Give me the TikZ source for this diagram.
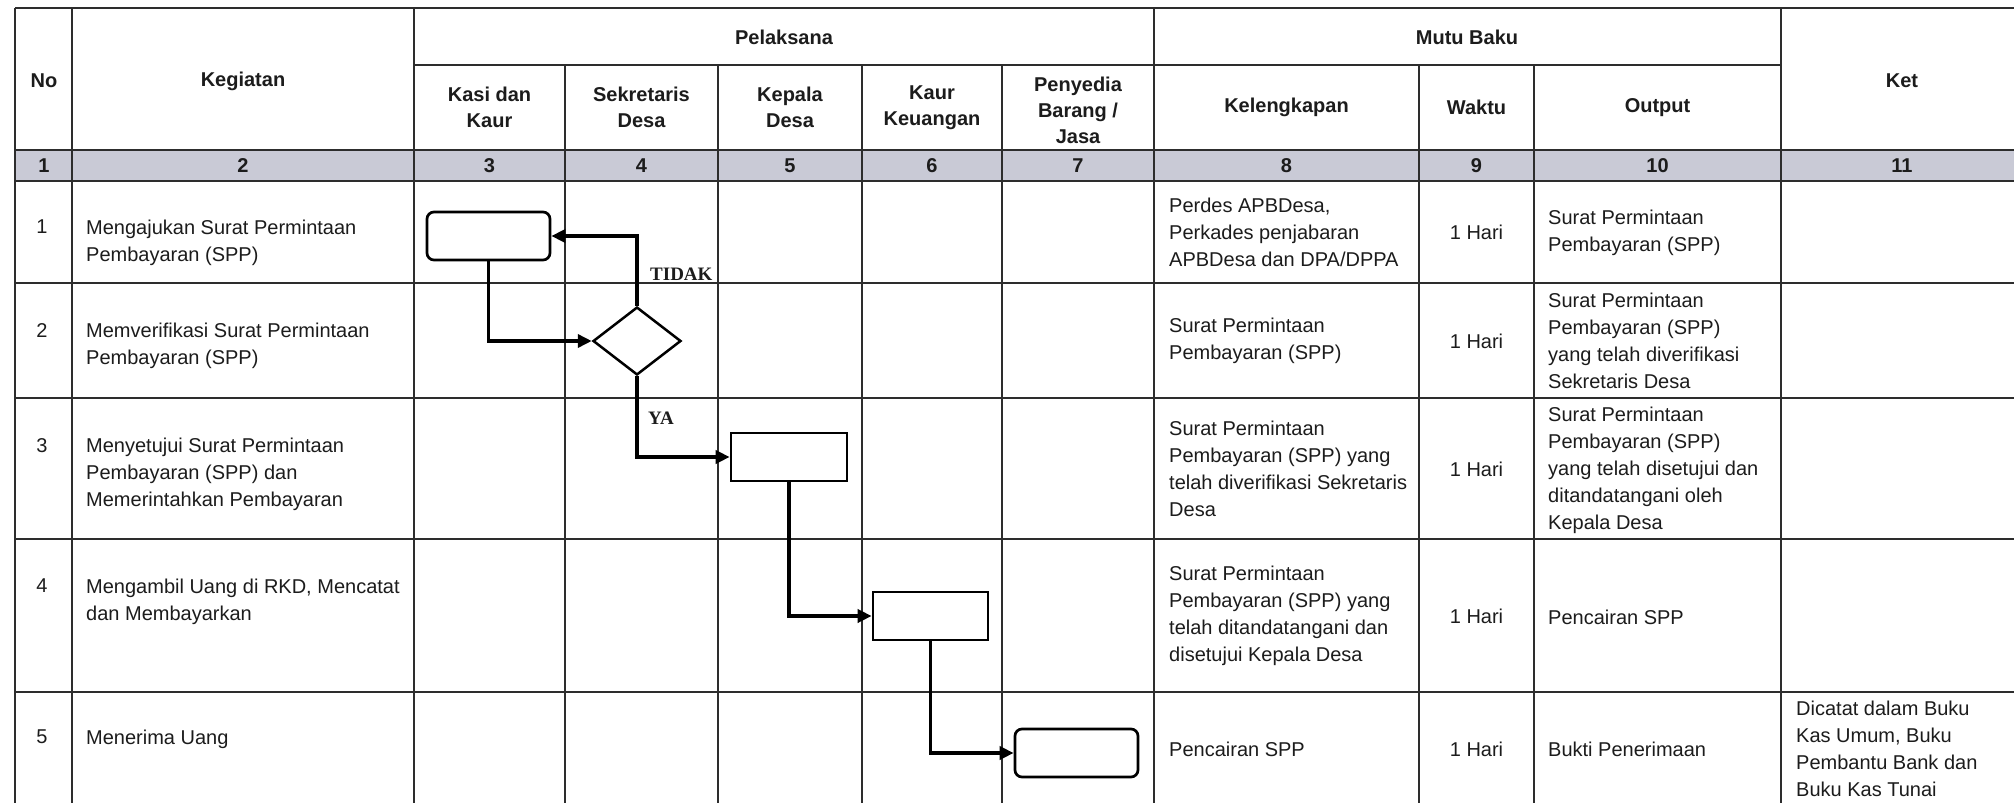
\documentclass[tikz,border=0pt]{standalone}
\usepackage{fontspec}
\setmainfont{Liberation Sans}
\newfontfamily\lblfont{Liberation Serif}
\usetikzlibrary{shapes.geometric,arrows.meta}
\definecolor{band}{RGB}{201,202,214}
\definecolor{ink}{RGB}{28,28,28}
\definecolor{rule}{RGB}{45,45,45}
\begin{document}
\begin{tikzpicture}[x=1pt,y=-1pt,
  gridline/.style={draw=rule, line width=1.9pt},
  bandline/.style={draw=rule, line width=2.4pt},
  hdr/.style={font=\fontsize{20}{26}\selectfont\bfseries, align=center, inner sep=0pt, text=ink},
  num/.style={font=\fontsize{20}{26}\selectfont\bfseries, inner sep=0pt, text=ink},
  cell/.style={font=\fontsize{20}{27}\selectfont, align=left, inner sep=0pt, text=ink, anchor=west},
  topcell/.style={font=\fontsize{20}{27}\selectfont, align=left, inner sep=0pt, text=ink, anchor=north west},
  nocell/.style={font=\fontsize{20}{27}\selectfont, inner sep=0pt, text=ink, anchor=north},
  ctrcell/.style={font=\fontsize{20}{27}\selectfont, inner sep=0pt, text=ink},
  procbox/.style={draw=black, line width=2.7pt, inner sep=0pt, minimum height=48pt},
  roundbox/.style={procbox, rounded corners=7pt},
  decision/.style={shape=diamond, draw=black, line width=2.5pt, inner sep=0pt, minimum width=88pt, minimum height=68pt},
  conn/.style={draw=black, line width=3.6pt, -{Triangle[length=14pt,width=13pt]}},
  lbl/.style={font=\fontsize{19}{22}\selectfont\lblfont\bfseries, inner sep=0pt, text=ink, anchor=west}
]
\useasboundingbox (0,0) rectangle (2014,803);
\fill[white] (0,0) rectangle (2014,803);
\clip (0,0) rectangle (2014,803);

% ---- gray band ----
\fill[band] (15,150) rectangle (2022,181);

% ---- horizontal lines ----
\draw[gridline] (15,8) -- (2022,8);
\draw[gridline] (414,65) -- (1781,65);
\draw[bandline] (15,150) -- (2022,150);
\draw[bandline] (15,181) -- (2022,181);
\foreach \yy in {283,398,539,692,806} \draw[gridline] (15,\yy) -- (2022,\yy);

% ---- vertical lines ----
\foreach \xx in {15,72,414,1154,1781,2022} \draw[gridline] (\xx,8) -- (\xx,806);
\foreach \xx in {565,718,862,1002,1419,1534} \draw[gridline] (\xx,65) -- (\xx,806);

% ---- headers ----
\node[hdr] (hno) at (44,81) {No};
\node[hdr] (hkeg) at (243,81) {Kegiatan};
\node[hdr] (hpel) at (784,37) {Pelaksana};
\node[hdr] (hmutu) at (1467,37) {Mutu Baku};
\node[hdr] (hket) at (1902,81) {Ket};
\node[hdr] (hkasi) at (489.5,107.5) {Kasi dan\\Kaur};
\node[hdr] (hsek) at (641.5,107.5) {Sekretaris\\Desa};
\node[hdr] (hkades) at (790,107.5) {Kepala\\Desa};
\node[hdr] (hkaur) at (932,107.5) {Kaur\\Keuangan};
\node[hdr] (hpeny) at (1078,110) {Penyedia\\Barang /\\Jasa};
\node[hdr] (hkel) at (1286.5,107.5) {Kelengkapan};
\node[hdr] (hwak) at (1476.5,107.5) {Waktu};
\node[hdr] (hout) at (1657.5,107.5) {Output};

% ---- band numbers ----
\node[num] (n1) at (44,166) {1};
\node[num] (n2) at (243,166) {2};
\node[num] (n3) at (489.5,166) {3};
\node[num] (n4) at (641.5,166) {4};
\node[num] (n5) at (790,166) {5};
\node[num] (n6) at (932,166) {6};
\node[num] (n7) at (1078,166) {7};
\node[num] (n8) at (1286.5,166) {8};
\node[num] (n9) at (1476.5,166) {9};
\node[num] (n10) at (1657.5,166) {10};
\node[num] (n11) at (1902,166) {11};

% ---- No column ----
\node[nocell] (no1) at (42,220) {1};
\node[nocell] (no2) at (42,323) {2};
\node[nocell] (no3) at (42,438) {3};
\node[nocell] (no4) at (42,579) {4};
\node[nocell] (no5) at (42,730) {5};

% ---- Kegiatan ----
\node[topcell] (k1) at (86,220) {Mengajukan Surat Permintaan\\Pembayaran (SPP)};
\node[topcell] (k2) at (86,323) {Memverifikasi Surat Permintaan\\Pembayaran (SPP)};
\node[topcell] (k3) at (86,438) {Menyetujui Surat Permintaan\\Pembayaran (SPP) dan\\Memerintahkan Pembayaran};
\node[topcell] (k4) at (86,579) {Mengambil Uang di RKD, Mencatat\\dan Membayarkan};
\node[topcell] (k5) at (86,730) {Menerima Uang};

% ---- Kelengkapan ----
\node[cell] (kl1) at (1169,232) {Perdes APBDesa,\\Perkades penjabaran\\APBDesa dan DPA/DPPA};
\node[cell] (kl2) at (1169,341) {Surat Permintaan\\Pembayaran (SPP)};
\node[cell] (kl3) at (1169,469) {Surat Permintaan\\Pembayaran (SPP) yang\\telah diverifikasi Sekretaris\\Desa};
\node[cell] (kl4) at (1169,616) {Surat Permintaan\\Pembayaran (SPP) yang\\telah ditandatangani dan\\disetujui Kepala Desa};
\node[cell] (kl5) at (1169,749) {Pencairan SPP};

% ---- Waktu ----
\node[ctrcell] (w1) at (1476.5,232) {1 Hari};
\node[ctrcell] (w2) at (1476.5,341) {1 Hari};
\node[ctrcell] (w3) at (1476.5,469) {1 Hari};
\node[ctrcell] (w4) at (1476.5,616) {1 Hari};
\node[ctrcell] (w5) at (1476.5,749) {1 Hari};

% ---- Output ----
\node[cell] (o1) at (1548,233) {Surat Permintaan\\Pembayaran (SPP)};
\node[cell] (o2) at (1548,341) {Surat Permintaan\\Pembayaran (SPP)\\yang telah diverifikasi\\Sekretaris Desa};
\node[cell] (o3) at (1548,470) {Surat Permintaan\\Pembayaran (SPP)\\yang telah disetujui dan\\ditandatangani oleh\\Kepala Desa};
\node[cell] (o4) at (1548,617) {Pencairan SPP};
\node[cell] (o5) at (1548,749) {Bukti Penerimaan};

% ---- Ket ----
\node[cell] (ket5) at (1796,749) {Dicatat dalam Buku\\Kas Umum, Buku\\Pembantu Bank dan\\Buku Kas Tunai};

% ---- flow shapes ----
\node[roundbox, minimum width=123pt] (b1) at (488.5,236) {};
\node[decision] (dec) at (637,341) {};
\node[procbox, minimum width=116pt] (b2) at (789,457) {};
\node[procbox, minimum width=115pt] (b3) at (930.5,616) {};
\node[roundbox, minimum width=123pt] (b4) at (1076.5,753) {};

% ---- connectors ----
\draw[conn] (b1.south) |- (dec.west);
\draw[conn] (dec.north) |- (b1.east);
\draw[conn] (dec.south) |- (b2.west);
\draw[conn] (b2.south) |- (b3.west);
\draw[conn] (b3.south) |- (b4.west);

% ---- labels ----
\node[lbl] (ltidak) at (650,274) {TIDAK};
\node[lbl] (lya) at (648,418) {YA};
\end{tikzpicture}
\end{document}
